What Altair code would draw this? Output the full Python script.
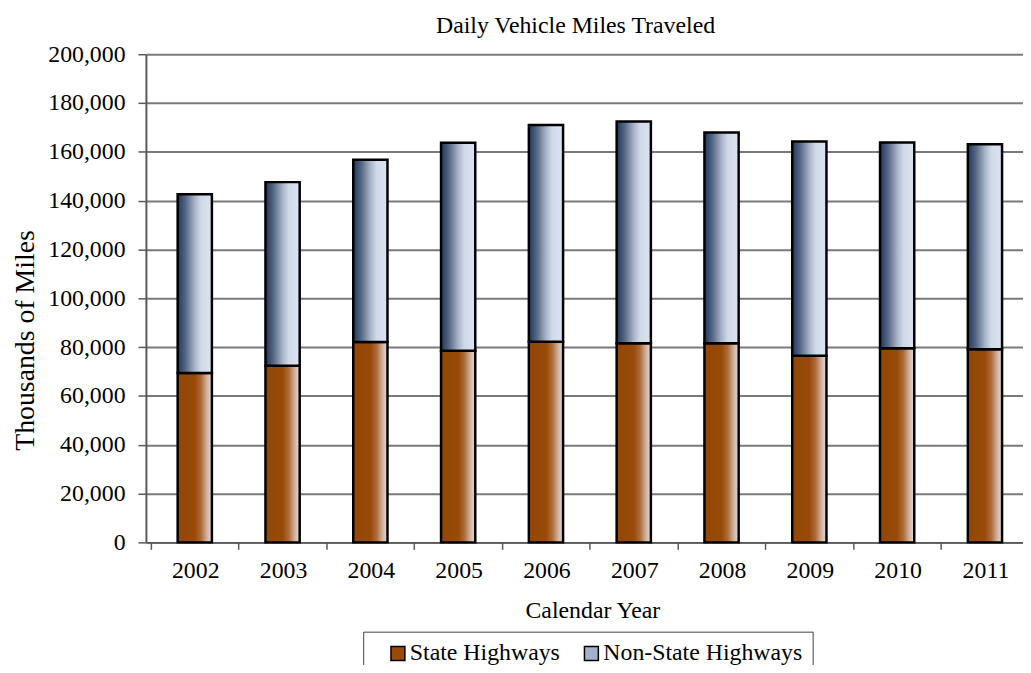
import altair as alt
import pandas as pd

# ---- data (thousands of miles) ----
years = [2002, 2003, 2004, 2005, 2006, 2007, 2008, 2009, 2010, 2011]
state_hwy = [69400, 72400, 82100, 78500, 82200, 81600, 81600, 76500, 79500, 79100]
non_state_hwy = [73200, 75200, 74700, 85200, 88800, 90800, 86300, 87700, 84300, 84000]
series = ["State Highways", "Non-State Highways"]
y_ticks = [0, 20000, 40000, 60000, 80000, 100000, 120000, 140000, 160000, 180000, 200000]
x_ticks = [y - 0.5 for y in years]

df = pd.DataFrame({"year": years, "state": state_hwy, "nonstate": non_state_hwy})
df["total"] = df["state"] + df["nonstate"]
legend_df = pd.DataFrame({"series": series, "year": [2005, 2005], "v": [0, 0]})

FONT = "Liberation Serif"

orange_grad = alt.Gradient(
    gradient="linear", x1=0, x2=1, y1=0, y2=0,
    stops=[
        alt.GradientStop(offset=0, color="#944606"),
        alt.GradientStop(offset=0.5, color="#984a08"),
        alt.GradientStop(offset=0.68, color="#ad6a38"),
        alt.GradientStop(offset=0.85, color="#cfb09e"),
        alt.GradientStop(offset=1, color="#e4dedb"),
    ],
)
blue_grad = alt.Gradient(
    gradient="linear", x1=0, x2=1, y1=0, y2=0,
    stops=[
        alt.GradientStop(offset=0, color="#1f365c"),
        alt.GradientStop(offset=0.25, color="#5a6b88"),
        alt.GradientStop(offset=0.5, color="#a8b3c7"),
        alt.GradientStop(offset=0.68, color="#d0d9e7"),
        alt.GradientStop(offset=1, color="#dce4f1"),
    ],
)

x_scale = alt.Scale(domain=[2001.5, 2011.377], nice=False, zero=False)
y_scale = alt.Scale(domain=[0, 200000], nice=False)

x_axis = alt.Axis(
    values=x_ticks, labelExpr="format(datum.value + 0.5, 'd')", labelOffset=44.75,
    grid=False, title="Calendar Year", tickSize=7, labelPadding=9,
    labelFontSize=24, titleFontSize=24, labelOverlap=False, labelFlush=False,
    titleX=450, titleY=76, titleBaseline="alphabetic",
    domainColor="#595959", domainWidth=2, tickColor="#595959", tickWidth=1.5,
)
y_axis = alt.Axis(
    values=y_ticks, format=",d", title="Thousands of Miles", tickSize=8, labelPadding=13,
    labelFontSize=24, titleFontSize=28, titleX=-113, titleY=288, titleBaseline="alphabetic",
    grid=True, gridColor="#7a7a7a", gridWidth=2,
    domainColor="#595959", domainWidth=2, tickColor="#595959", tickWidth=1.5,
)

X = alt.X("year:Q", scale=x_scale, axis=x_axis)

state_bars = alt.Chart(df).mark_bar(
    width=34.5, fill=orange_grad, stroke="black", strokeWidth=2.5
).encode(x=X, y=alt.Y("state:Q", scale=y_scale, axis=y_axis))

nonstate_bars = alt.Chart(df).mark_bar(
    width=34.5, fill=blue_grad, stroke="black", strokeWidth=2.5
).encode(x=X, y=alt.Y("total:Q", scale=y_scale, axis=y_axis), y2="state:Q")

legend_layer = alt.Chart(legend_df).mark_square(size=0, opacity=0).encode(
    x=X,
    y=alt.Y("v:Q", scale=y_scale, axis=y_axis),
    color=alt.Color(
        "series:N",
        scale=alt.Scale(domain=series, range=["#984a08", "#a3b1ca"]),
        legend=alt.Legend(
            title=None, orient="none", legendX=219, legendY=582, direction="horizontal",
            symbolType="square", symbolSize=196, symbolStrokeColor="black",
            symbolStrokeWidth=1.5, symbolOpacity=1,
            labelFontSize=24, labelFont=FONT, labelColor="black", labelLimit=400,
            strokeColor="#404040", fillColor="white", padding=10,
            symbolOffset=13, labelOffset=0, columnPadding=6,
        ),
    ),
)

chart = alt.layer(state_bars, nonstate_bars, legend_layer).properties(
    width=884,
    height=492,
    title=alt.TitleParams(
        text="Daily Vehicle Miles Traveled", font=FONT, fontSize=24,
        fontWeight="normal", color="black", anchor="middle", frame="group",
        dx=-9, dy=23, offset=8, baseline="alphabetic",
    ),
    autosize=alt.AutoSizeParams(type="none"),
    padding={"left": 139, "top": 44, "right": 0, "bottom": 121},
).configure_view(stroke=None).configure_axis(
    labelFont=FONT, titleFont=FONT, labelColor="black", titleColor="black",
    titleFontWeight="normal",
)

chart.save("out.html", embed_options={"renderer": "svg", "actions": False})
